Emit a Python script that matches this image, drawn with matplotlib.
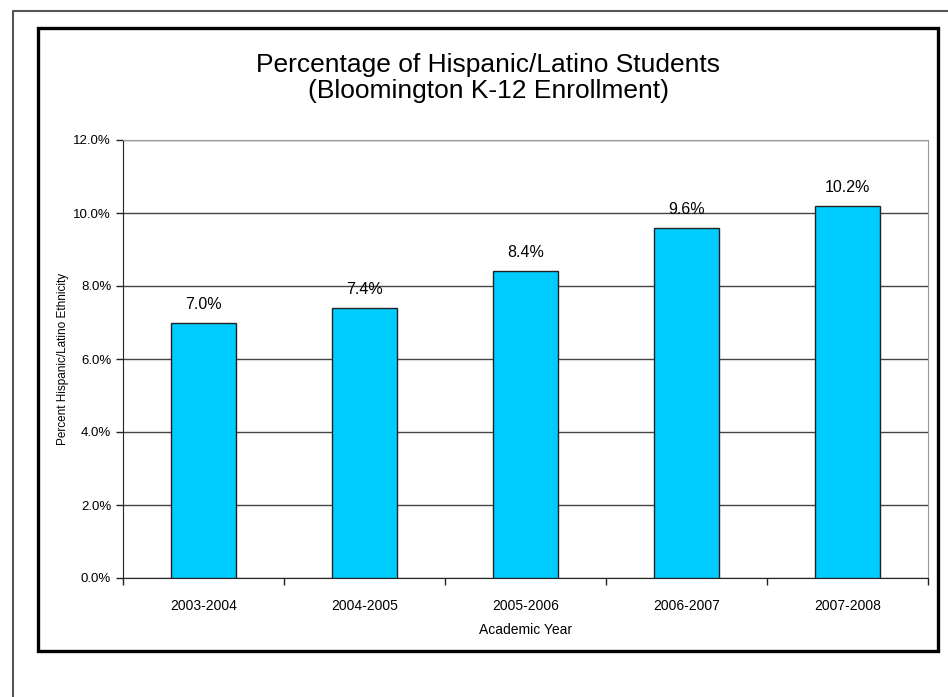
import matplotlib.pyplot as plt
from matplotlib.lines import Line2D
from matplotlib.patches import Rectangle
from matplotlib.ticker import FuncFormatter, FixedLocator

years = ['2003-2004', '2004-2005', '2005-2006', '2006-2007', '2007-2008']
percents = [7.0, 7.4, 8.4, 9.6, 10.2]
yticks = [0, 2, 4, 6, 8, 10, 12]

plt.rcParams['font.family'] = ['Liberation Sans', 'DejaVu Sans']

fig = plt.figure(figsize=(9.48, 6.97), dpi=100)
W, H = 948, 697

# outer page frame (left and top only)
fig.add_artist(Line2D([12.5 / W, 12.5 / W, 1], [0, 1 - 11 / H, 1 - 11 / H],
                      transform=fig.transFigure, color='#555555', lw=1.5))
# chart area box
fig.add_artist(Rectangle((38 / W, 1 - 651 / H), 900 / W, 623 / H,
                         transform=fig.transFigure, fill=False,
                         edgecolor='black', lw=2.4))

ax = fig.add_axes([123 / W, 1 - 578 / H, 805 / W, 438 / H])
x = range(len(years))
ax.bar(x, percents, width=0.4, color='#00CCFF', edgecolor='#222222', linewidth=1, zorder=3)

for i, v in enumerate(percents):
    ax.text(i, v + 0.3, f'{v:.1f}%', ha='center', va='bottom', fontsize=11.5)

ax.set_xlim(-0.5, len(years) - 0.5)
ax.set_ylim(0, 12)
ax.set_yticks(yticks)
ax.yaxis.set_major_formatter(FuncFormatter(lambda v, p: f'{v:.1f}%'))
ax.set_xticks(list(x))
ax.set_xticklabels(years, fontsize=10)
ax.xaxis.set_minor_locator(FixedLocator([i - 0.5 for i in range(len(years) + 1)]))
ax.tick_params(axis='x', which='major', length=0, pad=15)
ax.tick_params(axis='x', which='minor', length=5, width=1, direction='out', color='#222222')
ax.tick_params(axis='y', labelsize=9.5, length=5, width=1, direction='out', color='#222222')
ax.grid(axis='y', color='#444444', lw=1, zorder=0)

for s in ['left', 'bottom']:
    ax.spines[s].set_color('#222222')
for s in ['top', 'right']:
    ax.spines[s].set_color('#999999')

ax.set_xlabel('Academic Year', fontsize=10)
ax.xaxis.set_label_coords(0.5, -(630 - 578) / 438)
ax.set_ylabel('Percent Hispanic/Latino Ethnicity', fontsize=8.5)
ax.yaxis.set_label_coords(-(123 - 63) / 805, 0.5)
ax.yaxis.label.set_va('center')
ax.xaxis.label.set_va('center')

fig.text(488 / W, 1 - 78 / H, 'Percentage of Hispanic/Latino Students\n(Bloomington K-12 Enrollment)',
         ha='center', va='center', fontsize=19, linespacing=1.15)

fig.savefig('out.png', dpi=100)
